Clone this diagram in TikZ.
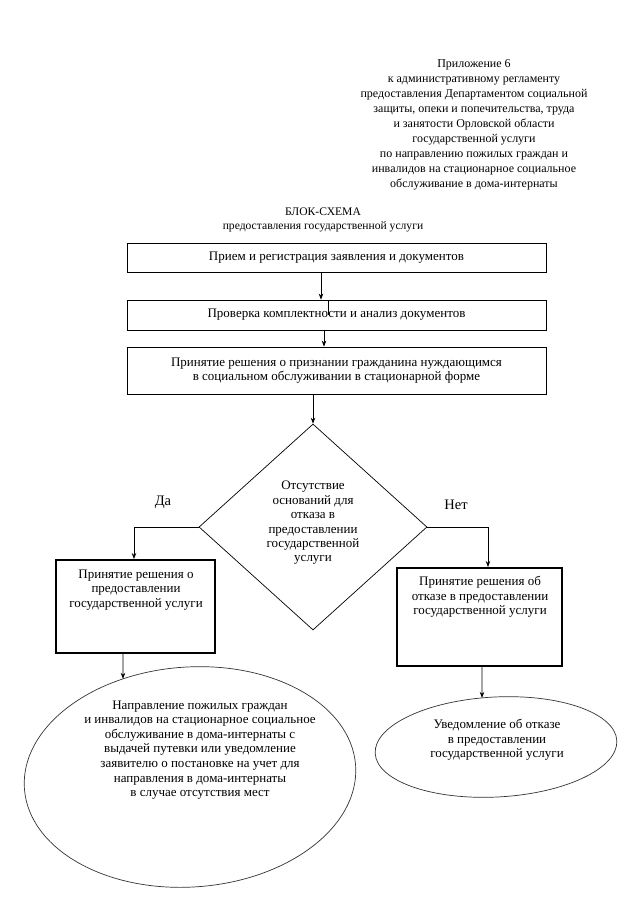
\documentclass[tikz,border=0pt]{standalone}
\usepackage{fontspec}
\setmainfont{Liberation Serif}
\usetikzlibrary{shapes.geometric,arrows.meta,intersections}
\begin{document}
\begin{tikzpicture}[x=1pt,y=-1pt,
  txt/.style={font=\fontsize{13}{14.6}\selectfont, align=center, inner sep=0pt},
  pbox/.style={draw, line width=0.8pt, minimum width=419pt, inner sep=0pt,
    font=\fontsize{13}{14.6}\selectfont, align=center},
  tbox/.style={draw, line width=2pt, inner sep=0pt},
  arr/.style={-{Stealth[length=6pt,width=4.5pt]}, line width=0.7pt},
  oval/.style={draw=black!80, ellipse, line width=0.7pt, inner sep=0pt},
  lbl/.style={font=\fontsize{14.5}{17}\selectfont, inner sep=0pt}
]
\useasboundingbox[fill=white] (0,0) rectangle (640,905);

% header
\node[txt, font=\fontsize{12}{15}\selectfont] (hdr) at (474,125)
  {Приложение 6\\к административному регламенту\\предоставления Департаментом социальной\\защиты, опеки и попечительства, труда\\и занятости Орловской области\\государственной услуги\\по направлению пожилых граждан и\\инвалидов на стационарное социальное\\обслуживание в дома-интернаты};

\node[txt, font=\fontsize{11.6}{14.5}\selectfont] (title) at (323,220) {БЛОК-СХЕМА\\предоставления государственной услуги};

% process boxes
\node[pbox, minimum height=29pt] (b1) at (336.5,257.5) {Прием и регистрация заявления и документов};
\node[pbox, minimum height=30pt] (b2) at (336.5,315) {Проверка комплектности и анализ документов};
\node[pbox, minimum height=47pt] (b3) at (336.5,370.5) {Принятие решения о признании гражданина нуждающимся\\в социальном обслуживании в стационарной форме};

\draw[arr] ([xshift=-15.5pt]b1.south) -- ([xshift=-15.5pt]b2.north);
\draw[line width=0.5pt] ([xshift=-8.5pt,yshift=-15pt]b2.north) -- ([xshift=-8.5pt,yshift=-1pt]b2.north);
\draw[arr] ([xshift=-12.5pt]b2.south) -- ([xshift=-12.5pt]b3.north);

% decision
\node[draw, diamond, minimum width=228pt, minimum height=206pt, inner sep=0pt, line width=0.7pt] (d) at (313,527) {};
\node[txt, font=\fontsize{13}{14.4}\selectfont] (dt) at (313,523) {Отсутствие\\оснований для\\отказа в\\предоставлении\\государственной\\услуги};
\draw[arr] (b3.south -| d.north) -- (d.north);

\node[lbl] (da) at (163,502) {Да};
\node[lbl] (net) at (456,505) {Нет};

% left branch
\node[tbox, minimum width=159pt, minimum height=93pt] (lb) at (135.5,606.5) {};
\node[txt] (lbt) at (136,590) {Принятие решения о\\предоставлении\\государственной услуги};
\draw[arr] (d.west) -| ([xshift=-1.5pt]lb.north);

% right branch
\node[tbox, minimum width=165pt, minimum height=98pt] (rb) at (479.5,617) {};
\node[txt] (rbt) at (480,597) {Принятие решения об\\отказе в предоставлении\\государственной услуги};
\draw[arr] (d.east) -| ([xshift=8.5pt]rb.north);

% left ellipse
\node[oval, minimum width=332pt, minimum height=220pt, rotate=4, name path=lep] (le) at (190,777) {};
\node[txt] (let) at (200,750) {Направление пожилых граждан\\и инвалидов на стационарное социальное\\обслуживание в дома-интернаты с\\выдачей путевки или уведомление\\заявителю о постановке на учет для\\направления в дома-интернаты\\в случае отсутствия мест};
\path[name path=lv] ([xshift=-12.5pt]lb.south) -- ++(0,80);
\path[name intersections={of=lv and lep, by=leT}];
\draw[arr] ([xshift=-12.5pt]lb.south) -- (leT);

% right ellipse
\node[oval, minimum width=242pt, minimum height=100pt, rotate=3, name path=rep] (re) at (496,747) {};
\node[txt] (ret) at (497,740) {Уведомление об отказе\\в предоставлении\\государственной услуги};
\path[name path=rv] ([xshift=2.5pt]rb.south) -- ++(0,80);
\path[name intersections={of=rv and rep, by=reT}];
\draw[arr] ([xshift=2.5pt]rb.south) -- (reT);
\end{tikzpicture}
\end{document}
